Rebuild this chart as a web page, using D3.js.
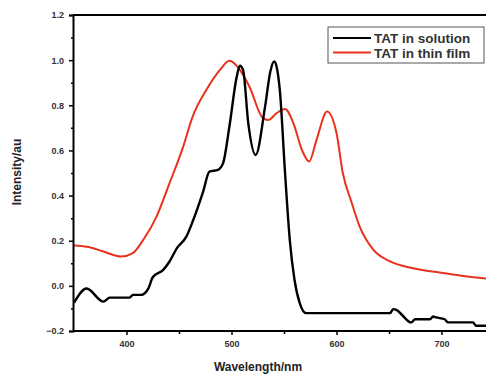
<!DOCTYPE html>
<html><head><meta charset="utf-8">
<script src="https://cdn.jsdelivr.net/npm/d3@7"></script>
<style>body{margin:0;background:#fff}svg{display:block}</style>
</head><body><svg id="c" width="486" height="375"></svg>
<script>
const xTicks = [400, 500, 600, 700];
const yTicks = [-0.2, 0.0, 0.2, 0.4, 0.6, 0.8, 1.0, 1.2];
const seriesNames = ["TAT in solution", "TAT in thin film"];
const solutionNm = [350,362,378,384,403,406,414,421,425,435,441,448,457,463,473,479,487,492,498,505,508,511,516,523,532,537,540.6,543,546,551,555.5,560,565,571,651,654,657,662,671,675,689,692,695,703,706,730,733,750];
const solutionVal = [-0.075,-0.012,-0.07,-0.052,-0.052,-0.04,-0.04,-0.01,0.038,0.071,0.108,0.167,0.218,0.285,0.418,0.506,0.514,0.544,0.706,0.927,0.975,0.957,0.72,0.58,0.795,0.95,0.994,0.97,0.868,0.5,0.204,0.027,-0.077,-0.121,-0.121,-0.103,-0.106,-0.127,-0.162,-0.148,-0.148,-0.136,-0.14,-0.148,-0.162,-0.162,-0.177,-0.177];
const filmNm = [350,365,378,395,406,416,428.6,441,454,463,476,489,498,508,517,530,535,543,551,559,567,574,581,591,600,606,614,622,635,651,673,698,720.6,740,750];
const filmVal = [0.179,0.171,0.152,0.13,0.145,0.204,0.307,0.455,0.617,0.75,0.868,0.957,0.997,0.957,0.883,0.743,0.735,0.765,0.784,0.72,0.603,0.551,0.647,0.772,0.677,0.5,0.375,0.263,0.16,0.108,0.078,0.059,0.044,0.034,0.03];

const svg = d3.select("#c");
const x = d3.scaleLinear().domain([350, 750]).range([74, 494]);
const y = d3.scaleLinear().domain([-0.2, 1.2]).range([331, 15]);
const font = "'Liberation Sans', Arial, sans-serif";

svg.append("clipPath").attr("id","cp").append("rect")
  .attr("x",74).attr("y",15).attr("width",420).attr("height",316);

const solution = solutionNm.map((d,i)=>[d, solutionVal[i]]);
const film = filmNm.map((d,i)=>[d, filmVal[i]]);

const g = svg.append("g").attr("clip-path","url(#cp)");
g.append("path").datum(film)
  .attr("d", d3.line().x(d=>x(d[0])).y(d=>y(d[1])).curve(d3.curveMonotoneX))
  .attr("fill","none").attr("stroke","#e8321e").attr("stroke-width",2);
g.append("path").datum(solution)
  .attr("d", d3.line().x(d=>x(d[0])).y(d=>y(d[1])).curve(d3.curveMonotoneX))
  .attr("fill","none").attr("stroke","#000").attr("stroke-width",2.4);

// top border
svg.append("line").attr("x1",73).attr("x2",486).attr("y1",y(1.2)).attr("y2",y(1.2))
  .attr("stroke","#000").attr("stroke-width",2);

// x axis
const xa = svg.append("g").attr("transform",`translate(0,${y(-0.2)})`)
  .call(d3.axisBottom(x).tickValues(xTicks).tickSize(4).tickPadding(6).tickFormat(d3.format("d")));
svg.append("g").attr("transform",`translate(0,${y(-0.2)})`)
  .call(d3.axisBottom(x).tickValues([450,550,650]).tickSize(3).tickFormat(""))
  .call(s=>s.select(".domain").remove());
// y axis
svg.append("g").attr("transform",`translate(${x(350)-1},0)`)
  .call(d3.axisLeft(y).tickValues(yTicks).tickSize(4).tickPadding(5).tickFormat(d3.format(".1f")));
svg.append("g").attr("transform",`translate(${x(350)-1},0)`)
  .call(d3.axisLeft(y).tickValues([-0.1,0.1,0.3,0.5,0.7,0.9,1.1]).tickSize(2).tickFormat(""))
  .call(s=>s.select(".domain").remove());

svg.selectAll(".domain").attr("stroke","#000").attr("stroke-width",2);
svg.selectAll(".tick line").attr("stroke","#000").attr("stroke-width",1.5);
svg.selectAll(".tick text").attr("font-family",font).attr("font-weight","bold")
  .attr("font-size","9px").attr("fill","#333");
xa.selectAll(".domain").attr("d", `M73,0H486`);

// axis titles
svg.append("text").attr("x",258).attr("y",371).attr("text-anchor","middle")
  .attr("font-family",font).attr("font-weight","bold").attr("font-size","12px").attr("fill","#222")
  .text("Wavelength/nm");
svg.append("text").attr("transform","translate(21,172) rotate(-90)").attr("text-anchor","middle")
  .attr("font-family",font).attr("font-weight","bold").attr("font-size","12px").attr("fill","#222")
  .text("Intensity/au");

// legend
const lg = svg.append("g");
lg.append("rect").attr("x",328).attr("y",27).attr("width",156).attr("height",36)
  .attr("fill","#fff").attr("stroke","#555").attr("stroke-width",1);
const colors = ["#000","#e8321e"];
seriesNames.forEach((n,i)=>{
  const yy = 38 + i*14.5;
  lg.append("line").attr("x1",333).attr("x2",371).attr("y1",yy).attr("y2",yy)
    .attr("stroke",colors[i]).attr("stroke-width",2);
  lg.append("text").attr("x",374).attr("y",yy+5).attr("font-family",font)
    .attr("font-weight","bold").attr("font-size","13.5px").attr("fill","#333").text(n);
});
</script></body></html>
